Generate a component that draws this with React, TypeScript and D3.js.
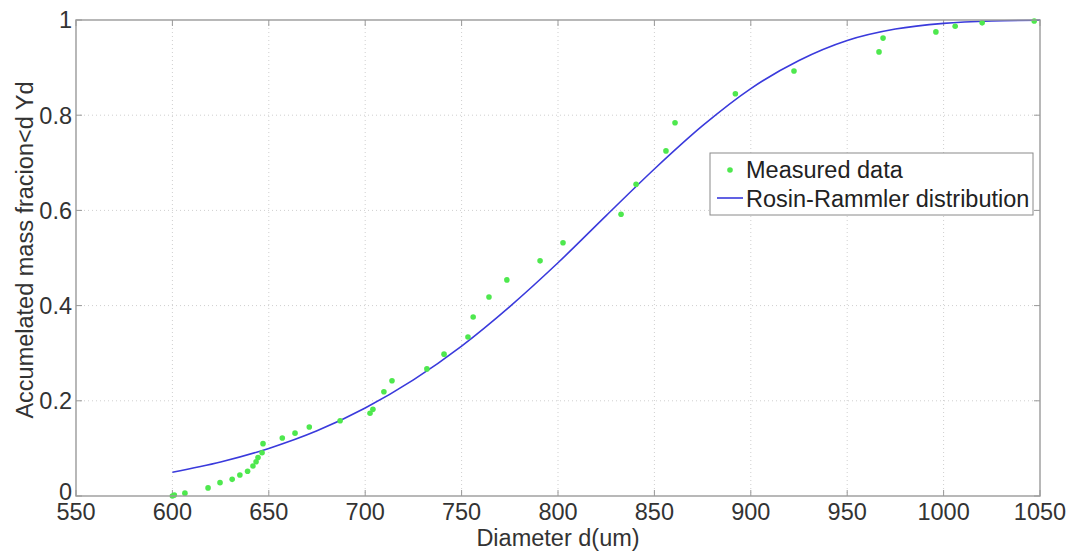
import React from "react";
import * as d3 from "d3";

const xTicks = [550, 600, 650, 700, 750, 800, 850, 900, 950, 1000, 1050];
const yTicks = [0, 0.2, 0.4, 0.6, 0.8, 1];
const yTickLabels = ["0", "0.2", "0.4", "0.6", "0.8", "1"];

const measuredD = [
  600, 601, 606.5, 618.5, 624.7, 631, 635, 639, 641.8, 643.4, 644.4, 646.5, 647, 657, 663.6, 671,
  687, 702.5, 704, 709.7, 713.9, 732, 740.9, 753.3, 756, 764.2, 773.5, 790.7, 802.6, 832.7, 840.5,
  856, 860.7, 892, 922.4, 966.5, 968.6, 996, 1006, 1020, 1047,
];
const measuredY = [
  0, 0.002, 0.006, 0.017, 0.028, 0.035, 0.044, 0.052, 0.063, 0.072, 0.081, 0.091, 0.11, 0.122, 0.132, 0.145,
  0.158, 0.174, 0.182, 0.219, 0.242, 0.267, 0.298, 0.334, 0.376, 0.418, 0.454, 0.494, 0.532, 0.592, 0.655,
  0.725, 0.784, 0.845, 0.893, 0.933, 0.962, 0.975, 0.987, 0.994, 0.998,
];

const curveD = [600, 625, 650, 675, 700, 725, 750, 775, 800, 825, 850, 875, 900, 925, 950, 975, 1000, 1025, 1050];
const curveY = [0.05, 0.0715, 0.1, 0.137, 0.185, 0.244, 0.315, 0.398, 0.49, 0.589, 0.687, 0.778, 0.856, 0.915, 0.957, 0.981, 0.993, 0.998, 0.9995];

const W = 1073;
const H = 552;
const left = 76;
const right = 1040;
const top = 20;
const bottom = 496;
const FONT = "'Liberation Sans', Arial, sans-serif";
const FS = 23.5;

export default function App() {
  const x = d3.scaleLinear().domain([550, 1050]).range([left, right]);
  const y = d3.scaleLinear().domain([0, 1]).range([bottom, top]);
  const line = d3
    .line<number>()
    .x((_, i) => x(curveD[i]))
    .y((d) => y(d))
    .curve(d3.curveMonotoneX);
  const tickLen = 6;
  return (
    <div style={{ position: "fixed", left: 0, top: 0 }}>
      <svg width={W} height={H} style={{ display: "block", background: "#fff" }}>
        <rect x={0} y={0} width={W} height={H} fill="#fff" />
        {/* grid */}
        {xTicks.slice(1, -1).map((t) => (
          <line key={"gx" + t} x1={x(t)} x2={x(t)} y1={top} y2={bottom} stroke="#cfcfcf" strokeDasharray="1,3" strokeWidth={1} />
        ))}
        {yTicks.slice(1, -1).map((t) => (
          <line key={"gy" + t} x1={left} x2={right} y1={y(t)} y2={y(t)} stroke="#cfcfcf" strokeDasharray="1,3" strokeWidth={1} />
        ))}
        {/* ticks */}
        {xTicks.map((t) => (
          <g key={"tx" + t}>
            <line x1={x(t)} x2={x(t)} y1={bottom} y2={bottom - tickLen} stroke="#999" />
            <line x1={x(t)} x2={x(t)} y1={top} y2={top + tickLen} stroke="#999" />
          </g>
        ))}
        {yTicks.map((t) => (
          <g key={"ty" + t}>
            <line x1={left} x2={left + tickLen} y1={y(t)} y2={y(t)} stroke="#999" />
            <line x1={right} x2={right - tickLen} y1={y(t)} y2={y(t)} stroke="#999" />
          </g>
        ))}
        {/* data */}
        <path d={line(curveY) || ""} fill="none" stroke="#3a3adc" strokeWidth={1.6} />
        {measuredD.map((d, i) => (
          <circle key={"p" + i} cx={x(d)} cy={y(measuredY[i])} r={2.8} fill="#4ee84e" />
        ))}
        {/* frame */}
        <rect x={left} y={top} width={right - left} height={bottom - top} fill="none" stroke="#9a9a9a" strokeWidth={1.4} />
        {/* tick labels */}
        {xTicks.map((t) => (
          <text key={"lx" + t} x={x(t)} y={519.5} textAnchor="middle" fontFamily={FONT} fontSize={FS} fill="#333">
            {t}
          </text>
        ))}
        {yTicks.map((t, i) => (
          <text key={"ly" + t} x={72} y={i === 0 ? y(t) - 4 : y(t)} dy="0.36em" textAnchor="end" fontFamily={FONT} fontSize={FS} fill="#333">
            {yTickLabels[i]}
          </text>
        ))}
        {/* axis labels */}
        <text x={(left + right) / 2} y={545.5} textAnchor="middle" fontFamily={FONT} fontSize={FS} fill="#333">
          Diameter d(um)
        </text>
        <text transform={`translate(33,250) rotate(-90)`} textAnchor="middle" fontFamily={FONT} fontSize={FS} fill="#333">
          Accumelated mass fracion&lt;d Yd
        </text>
        {/* legend */}
        <rect x={710} y={153} width={323} height={62} fill="#fff" stroke="#8a8a8a" strokeWidth={1} />
        <circle cx={730} cy={170} r={2.8} fill="#4ee84e" />
        <text x={746} y={178} fontFamily={FONT} fontSize={FS} fill="#222">
          Measured data
        </text>
        <line x1={717} x2={743} y1={198} y2={198} stroke="#3a3adc" strokeWidth={1.6} />
        <text x={746} y={207} fontFamily={FONT} fontSize={FS} fill="#222">
          Rosin-Rammler distribution
        </text>
      </svg>
    </div>
  );
}
